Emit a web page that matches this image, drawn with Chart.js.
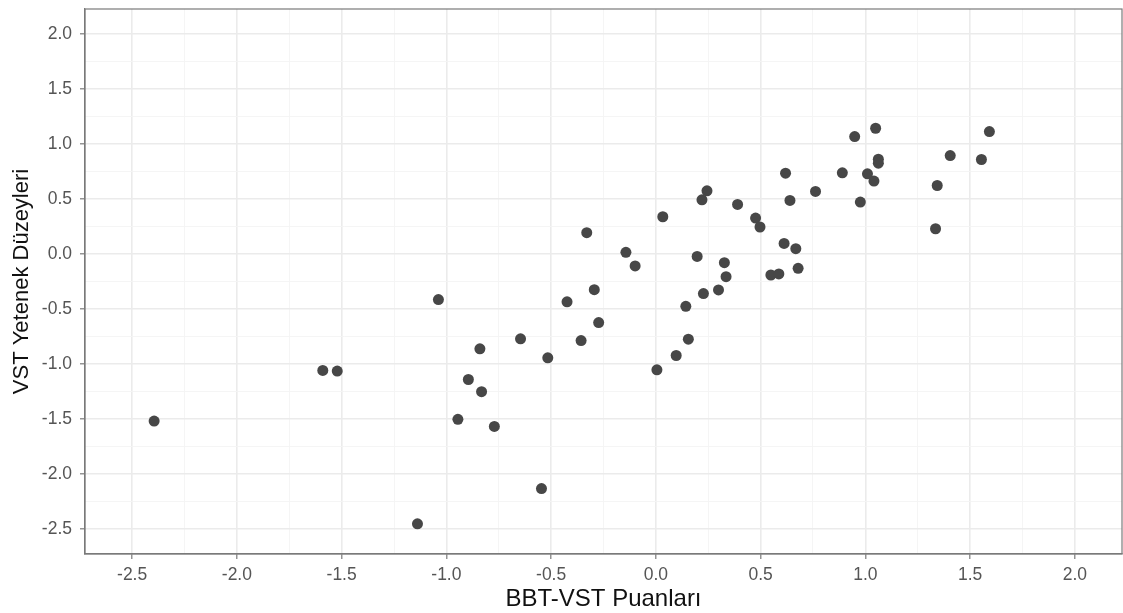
<!DOCTYPE html>
<html>
<head>
<meta charset="utf-8">
<script src="https://cdn.jsdelivr.net/npm/chart.js@4"></script>
<style>
    body { margin: 0; background: #ffffff; overflow: hidden; }
    #wrap { width: 1123px; height: 613px; position: relative; }
</style>
</head>
<body>
<div id="wrap"><canvas id="scatterChart"></canvas></div>
<script>
// BBT-VST scores (x) against VST skill levels (y)
const bbtVst = [
    -2.395, -1.590, -1.521, -1.038, -0.424, -0.294, 0.143, 0.227, 0.299, -0.273,
    -0.646, -0.357, 0.155, -0.840, -0.516, 0.097, 0.005, -0.895, -0.832, -0.945,
    -0.771, -0.546, -1.138, -0.330, -0.143, -0.099, 0.033, 0.244, 0.220, 0.390,
    0.197, 0.327, 0.335, 0.619, 0.640, 0.762, 0.890, 0.949, 1.049, 1.010,
    1.041, 1.062, 1.062, 0.976, 0.476, 0.497, 0.612, 0.668, 0.679, 0.549,
    0.587, 1.343, 1.335, 1.405, 1.554, 1.592
];
const vstLevels = [
    -1.518, -1.058, -1.064, -0.414, -0.435, -0.324, -0.475, -0.360, -0.327, -0.623,
    -0.771, -0.786, -0.774, -0.861, -0.943, -0.922, -1.052, -1.140, -1.251, -1.502,
    -1.566, -2.131, -2.451, 0.193, 0.015, -0.109, 0.338, 0.574, 0.492, 0.450,
    -0.022, -0.079, -0.206, 0.734, 0.486, 0.568, 0.737, 1.066, 1.142, 0.728,
    0.662, 0.861, 0.825, 0.471, 0.326, 0.245, 0.096, 0.048, -0.130, -0.191,
    -0.181, 0.622, 0.229, 0.894, 0.858, 1.112
];
const xTicks = [-2.5, -2.0, -1.5, -1.0, -0.5, 0.0, 0.5, 1.0, 1.5, 2.0];
const yTicks = [-2.5, -2.0, -1.5, -1.0, -0.5, 0.0, 0.5, 1.0, 1.5, 2.0];
const xTitle = `BBT-VST Puanları`;
const yTitle = `VST Yetenek Düzeyleri`;

const points = bbtVst.map((x, i) => ({ x: x, y: vstLevels[i] }));

// major ticks plus the minor gridline positions half way between them
function withMinor(ticks) {
    const all = [];
    ticks.forEach((t, i) => {
        all.push(t);
        if (i < ticks.length - 1) all.push((t + ticks[i + 1]) / 2);
    });
    return all;
}

function isMajor(value) {
    return Math.abs(value * 2 - Math.round(value * 2)) < 1e-6;
}

const fontFamily = `"Liberation Sans", Arial, Helvetica, sans-serif`;
const frameColor = `#7a7a7a`;

function axisOptions(ticks, title, isY) {
    const all = withMinor(ticks);
    return {
        type: `linear`,
        min: -2.725,
        max: 2.225,
        afterBuildTicks: scale => {
            scale.ticks = all.map(v => ({ value: v }));
        },
        afterFit: scale => {
            if (isY) scale.width = 85;
            else scale.height = 59;
            scale.paddingTop = 0;
            scale.paddingBottom = 0;
            scale.paddingLeft = 0;
            scale.paddingRight = 0;
        },
        grid: {
            color: ctx => isMajor(ctx.tick.value) ? `#ebebeb` : `#f4f4f4`,
            lineWidth: ctx => isMajor(ctx.tick.value) ? 1.6 : 0.9,
            tickColor: ctx => isMajor(ctx.tick.value) ? frameColor : `rgba(0,0,0,0)`,
            tickWidth: 1.2,
            tickLength: 5,
            drawTicks: true
        },
        border: { display: true, color: frameColor, width: 1.2 },
        ticks: {
            autoSkip: false,
            maxRotation: 0,
            padding: isY ? 8 : 6,
            color: `#555555`,
            font: { family: fontFamily, size: 17.5 },
            callback: value => isMajor(value) ? value.toFixed(1) : ``
        },
        title: {
            display: true,
            text: title,
            color: `#111111`,
            font: { family: fontFamily, size: isY ? 22 : 24, lineHeight: 1.1 },
            padding: isY ? { top: 10, bottom: 0 } : { top: 0, bottom: 0 }
        }
    };
}

// full panel border, as in the reference
const panelBorder = {
    id: `panelBorder`,
    afterDraw(chart) {
        const { ctx, chartArea } = chart;
        ctx.save();
        ctx.strokeStyle = frameColor;
        ctx.lineWidth = 1.2;
        ctx.strokeRect(chartArea.left, chartArea.top,
            chartArea.right - chartArea.left, chartArea.bottom - chartArea.top);
        ctx.restore();
    }
};

const ctx = document.getElementById(`scatterChart`).getContext(`2d`);
const chart = new Chart(ctx, {
    type: `scatter`,
    data: {
        datasets: [{
            label: `VST`,
            data: points,
            backgroundColor: `#474747`,
            borderWidth: 0,
            pointRadius: 5.5,
            pointHoverRadius: 5.5
        }]
    },
    options: {
        responsive: true,
        maintainAspectRatio: false,
        animation: false,
        layout: {
            autoPadding: false,
            padding: { top: 9, right: 1, left: 0, bottom: 0 }
        },
        plugins: {
            legend: { display: false },
            tooltip: { enabled: false }
        },
        scales: {
            x: axisOptions(xTicks, xTitle, false),
            y: axisOptions(yTicks, yTitle, true)
        }
    },
    plugins: [panelBorder]
});
</script>
</body>
</html>
